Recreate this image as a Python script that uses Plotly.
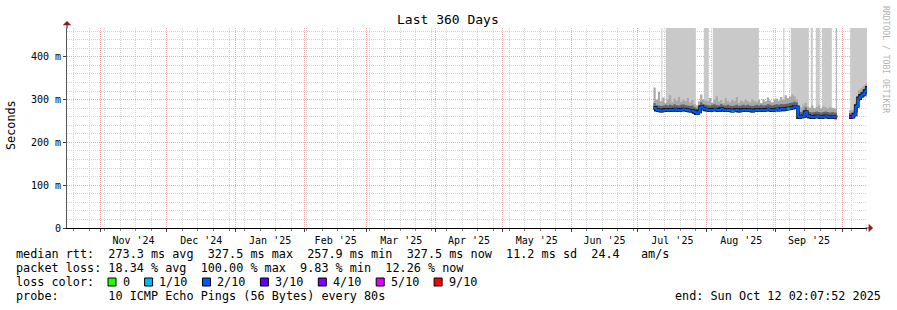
import plotly.graph_objects as go
import pandas as pd

# ---------------- data ----------------
x_start = "2024-10-17 02:07:52"
x_end = "2025-10-12 02:07:52"

seg1_dates = pd.date_range("2025-07-08", "2025-09-28", freq="D")
seg2_dates = pd.date_range("2025-10-04", "2025-10-12", freq="D")

median_1 = [281, 276, 275, 274, 275, 276, 275, 276, 275, 277, 276, 275, 276, 277, 276, 275, 274, 274, 271, 268, 272, 283, 279, 277,
            276, 275, 276, 277, 276, 275, 278, 276, 275, 276, 275, 274, 275, 276, 274, 275, 276, 275, 276, 275, 274, 275, 276, 275, 276, 275, 276, 277, 276, 275, 276,
            277, 276, 278, 277, 278, 279, 280, 281, 283, 282, 259, 260, 261, 271, 262, 260, 259, 260, 261, 260, 259, 260, 261, 260, 259, 260, 259, 258]
median_2 = [259, 260, 265, 285, 303, 309, 313, 320, 327.5]

ping_min_1 = [276, 272, 271, 270, 271, 272, 271, 272, 271, 273, 272, 271, 272, 273, 272, 271, 270, 270, 267, 264, 268, 278, 275, 273,
              272, 271, 272, 273, 272, 271, 274, 272, 271, 272, 271, 270, 271, 272, 270, 271, 272, 271, 272, 271, 270, 271, 272, 271, 272, 271, 272, 273, 272, 271, 272,
              273, 272, 274, 273, 274, 275, 276, 277, 279, 278, 256, 257, 258, 266, 258, 256, 255, 256, 257, 256, 255, 256, 257, 256, 255, 256, 255, 254]
ping_min_2 = [255, 256, 260, 270, 296, 302, 306, 312, 320]

ping_mid_1 = [292, 287, 286, 285, 286, 288, 286, 288, 286, 289, 287, 286, 288, 289, 287, 286, 285, 286, 282, 279, 284, 294, 290, 288,
              287, 286, 288, 289, 287, 286, 290, 287, 286, 288, 286, 285, 286, 288, 285, 286, 288, 286, 288, 286, 285, 286, 288, 286, 288, 286, 287, 289, 288, 286, 288,
              289, 288, 290, 289, 290, 291, 292, 293, 295, 293, 270, 271, 272, 282, 273, 271, 270, 271, 272, 271, 270, 271, 272, 271, 270, 271, 270, 269]
ping_mid_2 = [268, 269, 274, 294, 313, 317, 322, 327, 334]

ping_max_1 = [328, 300, 318, 296, 305, 292, 300, 310, 294, 302, 298, 306, 295, 300, 297, 304, 293, 299, 290, 286, 296, 312, 300, 298,
              296, 304, 293, 300, 308, 295, 299, 292, 303, 297, 294, 300, 296, 306, 292, 298, 295, 301, 297, 293, 300, 296, 294, 299, 292, 301, 296, 305, 298, 294, 300,
              302, 298, 306, 300, 310, 303, 307, 312, 308, 300, 285, 282, 288, 292, 284, 281, 286, 280, 283, 287, 280, 284, 282, 279, 283, 281, 280, 278]
ping_max_2 = [275, 276, 282, 305, 322, 326, 332, 336, 342]

loss_1 = [2, 2, 2, 2, 2, 2, 2, 2, 2, 2, 2, 2, 2, 2, 2, 2, 2, 2, 2, 2, 2, 2, 2, 2,
          2, 2, 2, 2, 2, 2, 2, 2, 2, 2, 2, 1, 2, 2, 2, 2, 2, 2, 2, 2, 2, 2, 2, 2, 2, 2, 2, 2, 2, 2, 2,
          2, 2, 2, 2, 2, 1, 2, 2, 2, 2, 2, 2, 2, 2, 2, 2, 2, 2, 2, 2, 2, 2, 2, 2, 2, 2, 2, 9]
loss_2 = [3, 2, 2, 2, 2, 2, 2, 2, 2]

# periods where the smoke runs off the top of the graph
box_start = ["2025-07-11 14:00", "2025-07-13 13:00", "2025-07-30 16:00", "2025-08-03 17:00", "2025-09-04 10:00",
             "2025-09-07 19:00", "2025-09-10 22:00", "2025-09-16 19:00", "2025-09-19 01:00", "2025-09-21 18:00",
             "2025-10-04 12:00", "2025-10-07 12:00"]
box_end = ["2025-07-12 00:00", "2025-07-27 01:00", "2025-08-01 22:00", "2025-08-24 10:00", "2025-09-04 22:00",
           "2025-09-10 22:00", "2025-09-15 22:00", "2025-09-17 17:00", "2025-09-20 20:00", "2025-09-26 06:00",
           "2025-10-07 12:00", "2025-10-12 02:07"]
box_base = [285, 280, 282, 280, 282, 285, 266, 266, 266, 266, 265, 305]
spike_start = ["2025-09-28 06:00"]
spike_end = ["2025-09-28 14:00"]
spike_base = [262]

y_ticks = [0, 100, 200, 300, 400]
y_labels = ["0", "100 m", "200 m", "300 m", "400 m"]

loss_labels = ["0", "1/10", "2/10", "3/10", "4/10", "5/10", "9/10"]
loss_levels = [0, 1, 2, 3, 4, 5, 9]
loss_colors = ["#26ff00", "#00b8ff", "#0059ff", "#5e00ff", "#7e00ff", "#dd00ff", "#ff0000"]

legend_lines = [
    "median rtt:  273.3 ms avg  327.5 ms max  257.9 ms min  327.5 ms now  11.2 ms sd  24.4   am/s",
    "packet loss: 18.34 % avg  100.00 % max  9.83 % min  12.26 % now",
    "loss color:",
    "probe:       10 ICMP Echo Pings (56 Bytes) every 80s",
]
end_text = "end: Sun Oct 12 02:07:52 2025"
title_text = "Last 360 Days"
y_title = "Seconds"
side_text = "RRDTOOL / TOBI OETIKER"

# ---------------- layout geometry ----------------
W, H = 897, 310
PL, PR, PT, PB = 67, 867, 28, 228
Y_MAX = 467.3
MONO = "DejaVu Sans Mono"


def fx(px):
    return (px - PL) / (PR - PL)


def fy(py):
    return (PB - py) / (PB - PT)


def nb(s):
    return s.replace(" ", "\u00a0")


fig = go.Figure()

# loss boxes (smoke running off the top)
bx, by = [], []
for s, e, b in zip(box_start, box_end, box_base):
    bx += [s, e, e, s, s, None]
    by += [b, b, Y_MAX, Y_MAX, b, None]
fig.add_trace(go.Scatter(x=bx, y=by, mode="lines", fill="toself", fillcolor="#c9c9c9",
                         line=dict(width=0), hoverinfo="skip", showlegend=False))
sx, sy = [], []
for s, e, b in zip(spike_start, spike_end, spike_base):
    sx += [s, e, e, s, s, None]
    sy += [b, b, Y_MAX, Y_MAX, b, None]
fig.add_trace(go.Scatter(x=sx, y=sy, mode="lines", fill="toself", fillcolor="#9c9c9c",
                         line=dict(width=0), hoverinfo="skip", showlegend=False))

segments = [
    (seg1_dates, median_1, ping_min_1, ping_mid_1, ping_max_1, loss_1),
    (seg2_dates, median_2, ping_min_2, ping_mid_2, ping_max_2, loss_2),
]
half_day = pd.Timedelta(hours=12)


def ext(dates, vals):
    return list(dates) + [dates[-1] + half_day], list(vals) + [vals[-1]]


for dates, med, pmin, pmid, pmax, loss in segments:
    x, lo = ext(dates, pmin)
    _, hi = ext(dates, pmax)
    _, mid = ext(dates, pmid)
    fig.add_trace(go.Scatter(x=x, y=lo, mode="lines", line=dict(width=0, shape="hv"),
                             hoverinfo="skip", showlegend=False))
    fig.add_trace(go.Scatter(x=x, y=hi, mode="lines", line=dict(width=0, shape="hv"), fill="tonexty",
                             fillcolor="#a9a9a9", hoverinfo="skip", showlegend=False))
    fig.add_trace(go.Scatter(x=x, y=lo, mode="lines", line=dict(width=0, shape="hv"),
                             hoverinfo="skip", showlegend=False))
    fig.add_trace(go.Scatter(x=x, y=mid, mode="lines", line=dict(width=0, shape="hv"), fill="tonexty",
                             fillcolor="#666666", hoverinfo="skip", showlegend=False))

# median: dark underlay then loss-coloured steps
for dates, med, pmin, pmid, pmax, loss in segments:
    x, m = ext(dates, med)
    fig.add_trace(go.Scatter(x=x, y=m, mode="lines", line=dict(width=3.5, color="#151515", shape="hv"),
                             hoverinfo="skip", showlegend=False))

buckets = {lv: ([], []) for lv in loss_levels}
for dates, med, pmin, pmid, pmax, loss in segments:
    n = len(dates)
    for i in range(n):
        x0 = dates[i]
        x1 = dates[i + 1] if i < n - 1 else dates[i] + half_day
        y0 = med[i]
        y1 = med[i + 1] if i < n - 1 else med[i]
        lv = loss[i]
        buckets[lv][0].extend([x0, x1, x1, None])
        buckets[lv][1].extend([y0, y0, y1, None])
for lv, col in zip(loss_levels, loss_colors):
    xs, ys = buckets[lv]
    if xs:
        fig.add_trace(go.Scatter(x=xs, y=ys, mode="lines", line=dict(width=2.2, color=col),
                                 hoverinfo="skip", showlegend=False))

# ---------------- axes ----------------
fig.update_layout(
    width=W, height=H,
    margin=dict(l=PL, r=W - PR, t=PT, b=H - PB, pad=0),
    paper_bgcolor="white", plot_bgcolor="white",
    font=dict(family=MONO, color="black"),
    xaxis=dict(
        type="date", range=[x_start, x_end],
        tickmode="linear", tick0="2024-11-01", dtick="M1",
        ticklabelmode="period", tickformat="%b '%y",
        tickfont=dict(family=MONO, size=10, color="black"),
        showgrid=True, gridcolor="#f4aaaa", gridwidth=1, griddash="1px,1px",
        ticks="outside", ticklen=3, tickcolor="#444",
        minor=dict(tickmode="linear", tick0="2024-10-20", dtick=7 * 86400000,
                   showgrid=True, gridcolor="#d4d4d4", griddash="1px,1px",
                   ticks="outside", ticklen=2, tickcolor="#888"),
        showline=True, linecolor="black", linewidth=1, zeroline=False,
        fixedrange=True,
    ),
    yaxis=dict(
        range=[0, Y_MAX], tickmode="array", tickvals=y_ticks, ticktext=y_labels,
        tickfont=dict(family=MONO, size=10, color="black"),
        showgrid=True, gridcolor="#f4aaaa", gridwidth=1, griddash="1px,1px",
        ticks="outside", ticklen=3, tickcolor="#444",
        minor=dict(tickmode="linear", tick0=0, dtick=20, showgrid=True,
                   gridcolor="#d4d4d4", griddash="1px,1px"),
        showline=True, linecolor="#555", linewidth=1, zeroline=False,
        fixedrange=True,
    ),
)

ann = []
# title
ann.append(dict(text=nb(title_text), x=fx(448), y=fy(20), xref="paper", yref="paper",
                xanchor="center", yanchor="middle", showarrow=False,
                font=dict(family=MONO, size=13, color="black"), borderpad=0, borderwidth=0))
# y title
ann.append(dict(text=y_title, x=fx(11), y=fy(125), xref="paper", yref="paper", textangle=-90,
                xanchor="center", yanchor="middle", showarrow=False,
                font=dict(family=MONO, size=11.8, color="black"), borderpad=0, borderwidth=0))
# side credit
ann.append(dict(text=nb(side_text), x=fx(886), y=fy(59), xref="paper", yref="paper", textangle=90,
                xanchor="center", yanchor="middle", showarrow=False,
                font=dict(family=MONO, size=8.1, color="#b4b4b4"), borderpad=0, borderwidth=0))
# axis arrows
ann.append(dict(text="", x=0, y=fy(21), xref="paper", yref="paper", ax=0, ay=9,
                showarrow=True, arrowhead=1, arrowsize=1.2, arrowwidth=1.2, arrowcolor="#8b1c1c"))
ann.append(dict(text="", x=fx(873), y=0, xref="paper", yref="paper", ax=-9, ay=0,
                showarrow=True, arrowhead=1, arrowsize=1.2, arrowwidth=1.2, arrowcolor="#8b1c1c"))
# legend lines
for i, line in enumerate(legend_lines):
    ann.append(dict(text=nb(line), x=fx(16), y=fy(254 + 14 * i), xref="paper", yref="paper",
                    xanchor="left", yanchor="middle", showarrow=False,
                    font=dict(family=MONO, size=11.8, color="black"), borderpad=0, borderwidth=0))
ann.append(dict(text=nb(end_text), x=fx(881), y=fy(296), xref="paper", yref="paper",
                xanchor="right", yanchor="middle", showarrow=False,
                font=dict(family=MONO, size=11.8, color="black"), borderpad=0, borderwidth=0))

shapes = []
sq = 108.0
CH = 7.1
for lab, col in zip(loss_labels, loss_colors):
    shapes.append(dict(type="rect", xref="paper", yref="paper", x0=fx(sq), x1=fx(sq + 8),
                       y0=fy(286), y1=fy(278), fillcolor=col, line=dict(color="black", width=1)))
    lx = sq + 14.5
    ann.append(dict(text=nb(lab), x=fx(lx), y=fy(282), xref="paper", yref="paper",
                    xanchor="left", yanchor="middle", showarrow=False,
                    font=dict(family=MONO, size=11.8, color="black"), borderpad=0, borderwidth=0))
    sq = lx + CH * len(lab) + 15

fig.update_layout(annotations=ann, shapes=shapes)

fig.write_html("out.html")
